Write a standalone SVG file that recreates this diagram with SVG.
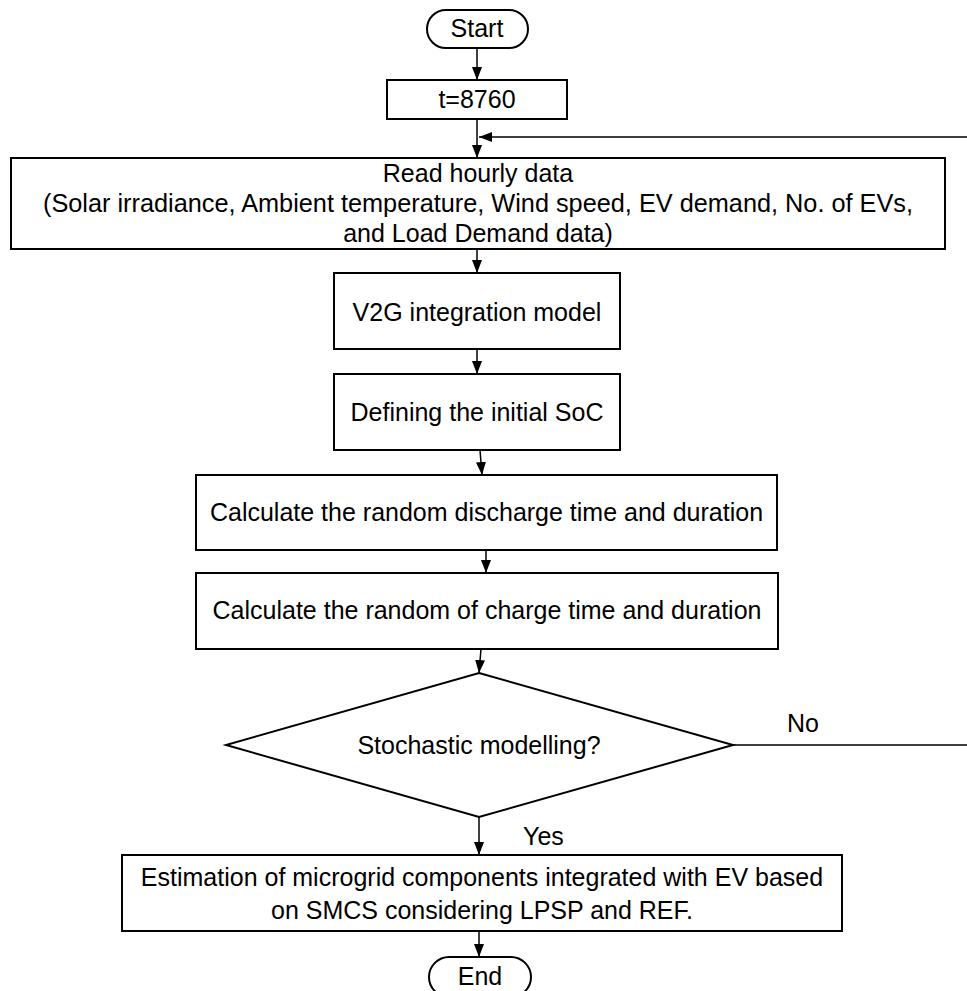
<svg xmlns="http://www.w3.org/2000/svg" width="967" height="991" viewBox="0 0 967 991">
<style>
.box{fill:#fff;stroke:#000;stroke-width:2}
.t{font-family:"Liberation Sans",Arial,sans-serif;font-size:25px;fill:#000;text-anchor:middle}
.ts{font-family:"Liberation Sans",Arial,sans-serif;font-size:25px;fill:#000;text-anchor:start}
.c{fill:none;stroke:#000;stroke-width:1.5}
</style>
<defs>
<marker id="ah" markerUnits="userSpaceOnUse" markerWidth="14" markerHeight="10" viewBox="0 0 14 10" refX="13" refY="5" orient="auto">
<path d="M0,0 L13,5 L0,10 Z" fill="#000"/>
</marker>
</defs>
<g id="connectors">
<line class="c" x1="477" y1="48" x2="477" y2="80" marker-end="url(#ah)"/>
<line class="c" x1="477" y1="119" x2="477" y2="158" marker-end="url(#ah)"/>
<line class="c" x1="967" y1="137" x2="479" y2="137" marker-end="url(#ah)"/>
<line class="c" x1="477" y1="249" x2="477" y2="273" marker-end="url(#ah)"/>
<line class="c" x1="477" y1="349" x2="477" y2="374" marker-end="url(#ah)"/>
<line class="c" x1="480" y1="450" x2="482" y2="475" marker-end="url(#ah)"/>
<line class="c" x1="486" y1="550" x2="486" y2="573" marker-end="url(#ah)"/>
<line class="c" x1="481" y1="649" x2="479" y2="673" marker-end="url(#ah)"/>
<line class="c" x1="733" y1="745" x2="967" y2="745" stroke="#333"/>
<line class="c" x1="479" y1="817" x2="479" y2="855" marker-end="url(#ah)"/>
<line class="c" x1="479" y1="931" x2="479" y2="957" marker-end="url(#ah)"/>
</g>
<g id="start">
<rect class="box" x="427" y="10" width="101" height="38" rx="19"/>
<text class="t" x="477" y="37">Start</text>
</g>
<g id="init">
<rect class="box" x="387" y="80" width="180" height="39"/>
<text class="t" x="477" y="108">t=8760</text>
</g>
<g id="read">
<rect class="box" x="11" y="158" width="934" height="91"/>
<text class="t" x="478" y="182">Read hourly data</text>
<text class="t" x="478" y="212" textLength="870" lengthAdjust="spacingAndGlyphs">(Solar irradiance, Ambient temperature, Wind speed, EV demand, No. of EVs,</text>
<text class="t" x="478" y="242">and Load Demand data)</text>
</g>
<g id="v2g">
<rect class="box" x="334" y="273" width="286" height="76"/>
<text class="t" x="477" y="321">V2G integration model</text>
</g>
<g id="soc">
<rect class="box" x="334" y="374" width="286" height="76"/>
<text class="t" x="477" y="421">Defining the initial SoC</text>
</g>
<g id="discharge">
<rect class="box" x="196" y="475" width="581" height="75"/>
<text class="t" x="486.5" y="521">Calculate the random discharge time and duration</text>
</g>
<g id="charge">
<rect class="box" x="196" y="573" width="582" height="76"/>
<text class="t" x="487" y="619">Calculate the random of charge time and duration</text>
</g>
<g id="decision">
<polygon class="box" points="479,673 733,745 479,817 226,745"/>
<text class="t" x="479" y="754">Stochastic modelling?</text>
<text class="ts" x="787" y="732">No</text>
<text class="ts" x="523" y="845">Yes</text>
</g>
<g id="estimate">
<rect class="box" x="122" y="855" width="720" height="76"/>
<text class="t" x="482" y="886">Estimation of microgrid components integrated with EV based</text>
<text class="t" x="482" y="919">on SMCS considering LPSP and REF.</text>
</g>
<g id="end">
<rect class="box" x="429" y="957" width="102" height="40" rx="20"/>
<text class="t" x="480" y="985">End</text>
</g>
</svg>
